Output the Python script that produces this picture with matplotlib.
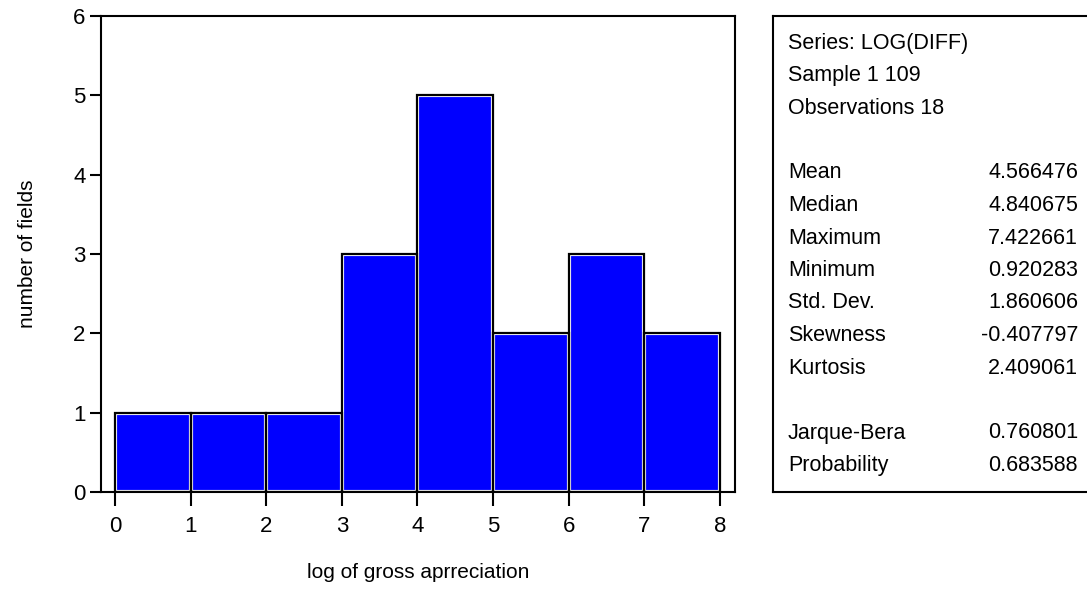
import matplotlib.pyplot as plt
import numpy as np

plt.rcParams['font.family'] = ['Liberation Sans', 'DejaVu Sans']

# histogram of log(diff), bins of width 1
bin_edges = [0, 1, 2, 3, 4, 5, 6, 7, 8]
counts = [1, 1, 1, 3, 5, 2, 3, 2]

header_lines = ["Series: LOG(DIFF)", "Sample 1 109", "Observations 18"]
stat_names = ["Mean", "Median", "Maximum", "Minimum", "Std. Dev.", "Skewness", "Kurtosis"]
stat_values = ["4.566476", "4.840675", "7.422661", "0.920283", "1.860606", "-0.407797", "2.409061"]
test_names = ["Jarque-Bera", "Probability"]
test_values = ["0.760801", "0.683588"]

W, H = 1087, 607
fig = plt.figure(figsize=(W / 100, H / 100), dpi=100)

ax = fig.add_axes([101 / W, 1 - 492 / H, 634 / W, 476 / H])

left = np.array(bin_edges[:-1])
# blue fill, thin white inner rim, black outline
ax.bar(left, counts, width=1, align='edge', color='#0000FF', edgecolor='none', zorder=2)
rims = ax.bar(left, counts, width=1, align='edge', color='none', edgecolor='white',
              linewidth=3, zorder=3)
fills = ax.patches[:len(counts)]
for rim, fill in zip(rims, fills):
    rim.set_clip_path(fill)
ax.bar(left, counts, width=1, align='edge', color='none', edgecolor='black',
       linewidth=1.6, zorder=4)

ax.set_xlim(-0.185, 8.2)
ax.set_ylim(0, 6)
ax.set_xticks(bin_edges)
ax.set_yticks(range(7))
for s in ax.spines.values():
    s.set_linewidth(1.5)
    s.set_zorder(5)
ax.tick_params(axis='y', length=8, width=1.5, pad=3, labelsize=16)
ax.tick_params(axis='x', length=10, width=1.5, pad=7, labelsize=16)

ax.set_xlabel("log of gross aprreciation", fontsize=15)
ax.xaxis.set_label_coords(0.5, (492 - 572) / 476)
ax.xaxis.label.set_va('center')
ax.set_ylabel("number of fields", fontsize=15, va='center')
ax.yaxis.set_label_coords((28 - 101) / 634, 0.5)

# statistics box on the right
box = fig.add_axes([773 / W, 1 - 492 / H, 330 / W, 476 / H])
box.set_xticks([])
box.set_yticks([])
for s in box.spines.values():
    s.set_linewidth(1.5)

rows = [(t, "") for t in header_lines] + [("", "")]
rows += list(zip(stat_names, stat_values)) + [("", "")]
rows += list(zip(test_names, test_values))

row0, step = 43, 32.5
for i, (name, val) in enumerate(rows):
    y = (492 - (row0 + i * step)) / 476
    box.text((788 - 773) / 330, y, name, fontsize=15.5, va='center', ha='left',
             transform=box.transAxes)
    box.text((1078 - 773) / 330, y, val, fontsize=15.5, va='center', ha='right',
             transform=box.transAxes)

fig.savefig("out.png", dpi=100)
